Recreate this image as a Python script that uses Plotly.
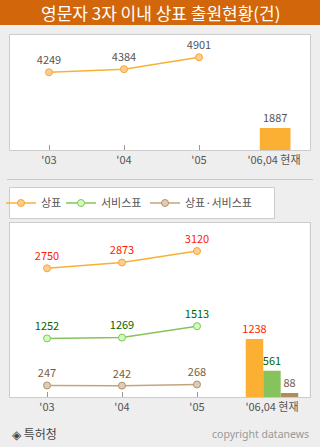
import plotly.graph_objects as go

# ---- data ----
years = ["'03", "'04", "'05", "'06,04 현재"]
line_x = [0, 1, 2]
bar_x = [3]

total_line = [4249, 4384, 4901]
total_bar = [1887]

series_names = ["상표", "서비스표", "상표·서비스표"]
trademark = [2750, 2873, 3120]
service = [1252, 1269, 1513]
both = [247, 242, 268]
bar_2006 = [1238, 561, 88]

W, H = 320, 447
FONT = "Noto Sans CJK KR"

def py(px):
    return 1 - px / H

def pxx(px):
    return px / W

fig = go.Figure()

# top panel
fig.add_trace(go.Scatter(
    x=line_x, y=total_line, xaxis="x", yaxis="y",
    mode="lines+markers+text", text=[str(v) for v in total_line],
    textposition="top center", textfont=dict(family=FONT, size=11, color="#555555"),
    line=dict(color="#FBB034", width=1.5),
    marker=dict(size=7, color="#FFCC99", line=dict(color="#F7A823", width=1)),
    showlegend=False, cliponaxis=False))
fig.add_trace(go.Bar(
    x=bar_x, y=total_bar, xaxis="x", yaxis="y3",
    width=0.41, offset=-0.19, marker=dict(color="#FBB034", line=dict(width=0)),
    text=[str(v) for v in total_bar], textposition="outside", constraintext="none",
    textfont=dict(family=FONT, size=11, color="#555555"),
    showlegend=False, cliponaxis=False))

# bottom panel
styles = [
    dict(line="#FBB034", fill="#FFCC99", edge="#F7A823", bar="#FBB034", text="#FF2200"),
    dict(line="#86C35A", fill="#CCFFBB", edge="#86C35A", bar="#86C35A", text="#006600"),
    dict(line="#C4A47C", fill="#DDCCB8", edge="#B39266", bar="#B08D5F", text="#7A5C3A"),
]
line_data = [trademark, service, both]
offsets = [-0.35, -0.117, 0.117]
legends = ["legend", "legend2", "legend3"]
for name, vals, st, bv, off, lg in zip(series_names, line_data, styles, bar_2006, offsets, legends):
    fig.add_trace(go.Scatter(
        x=line_x, y=vals, xaxis="x2", yaxis="y2", name=name, legend=lg,
        mode="lines+markers+text", text=[str(v) for v in vals],
        textposition="top center", textfont=dict(family=FONT, size=11, color=st["text"]),
        line=dict(color=st["line"], width=1.5),
        marker=dict(size=7, color=st["fill"], line=dict(color=st["edge"], width=1)),
        showlegend=True, cliponaxis=False))
    fig.add_trace(go.Bar(
        x=bar_x, y=[bv], xaxis="x2", yaxis="y2",
        width=0.233, offset=off, marker=dict(color=st["bar"], line=dict(width=0)),
        text=[str(bv)], textposition="outside", constraintext="none",
        textfont=dict(family=FONT, size=11, color=st["text"]),
        showlegend=False, cliponaxis=False))

axis_common = dict(showgrid=False, zeroline=False, showline=True, mirror=True,
                   linecolor="#CCCCCC", linewidth=1)
xcommon = dict(axis_common, tickmode="array", tickvals=[0, 1, 2, 3], ticktext=years,
               ticks="inside", ticklen=5, tickcolor="#999999", layer="below traces",
               tickfont=dict(family=FONT, size=11, color="#555555"))

def legend_at(xpx):
    return dict(orientation="h", x=pxx(xpx), xanchor="left", y=py(203), yanchor="middle",
                bgcolor="rgba(0,0,0,0)", borderwidth=0, itemwidth=30,
                font=dict(family=FONT, size=11, color="#555555"))

fig.update_layout(
    width=W, height=H, margin=dict(l=0, r=0, t=0, b=0),
    paper_bgcolor="#EEEEEE", plot_bgcolor="#FFFFFF",
    barmode="overlay",
    font=dict(family=FONT, size=11, color="#555555"),
    xaxis=dict(xcommon, domain=[pxx(10), pxx(310)], range=[-0.52, 3.48], anchor="y"),
    yaxis=dict(axis_common, domain=[py(150), py(35)], range=[871, 5871],
               showticklabels=False, ticks="", anchor="x"),
    yaxis3=dict(overlaying="y", range=[0, 9864], visible=False, anchor="x"),
    xaxis2=dict(xcommon, domain=[pxx(9.5), pxx(309.5)], range=[-0.5, 3.5], anchor="y2"),
    yaxis2=dict(axis_common, domain=[py(397), py(223)], range=[0, 3718],
                showticklabels=False, ticks="", anchor="x2"),
    legend=legend_at(1),
    legend2=legend_at(61),
    legend3=legend_at(145),
    shapes=[
        dict(type="rect", xref="paper", yref="paper", x0=0, x1=1, y0=py(25), y1=1,
             fillcolor="#D2660A", line=dict(width=0), layer="below"),
        dict(type="line", xref="paper", yref="paper", x0=pxx(7), x1=pxx(313),
             y0=py(179.5), y1=py(179.5), line=dict(color="#C8C8C8", width=1)),
        dict(type="rect", xref="paper", yref="paper", x0=pxx(9.5), x1=pxx(274.5),
             y0=py(218.5), y1=py(187.5), fillcolor="#FFFFFF",
             line=dict(color="#CCCCCC", width=1), layer="below"),
    ],
    annotations=[
        dict(text="영문자 3자 이내 상표 출원현황(건)", xref="paper", yref="paper",
             x=0.5, y=py(13), xanchor="center", yanchor="middle", showarrow=False,
             font=dict(family=FONT, size=17, color="#FFFFFF")),
        dict(text="◈ 특허청", xref="paper", yref="paper", x=pxx(10), y=py(433),
             xanchor="left", yanchor="middle", showarrow=False,
             font=dict(family=FONT, size=12, color="#444444")),
        dict(text="copyright datanews", xref="paper", yref="paper", x=pxx(311), y=py(434),
             xanchor="right", yanchor="middle", showarrow=False,
             font=dict(family="Noto Sans", size=10.5, color="#999999")),
    ],
)

fig.write_html("out.html")
